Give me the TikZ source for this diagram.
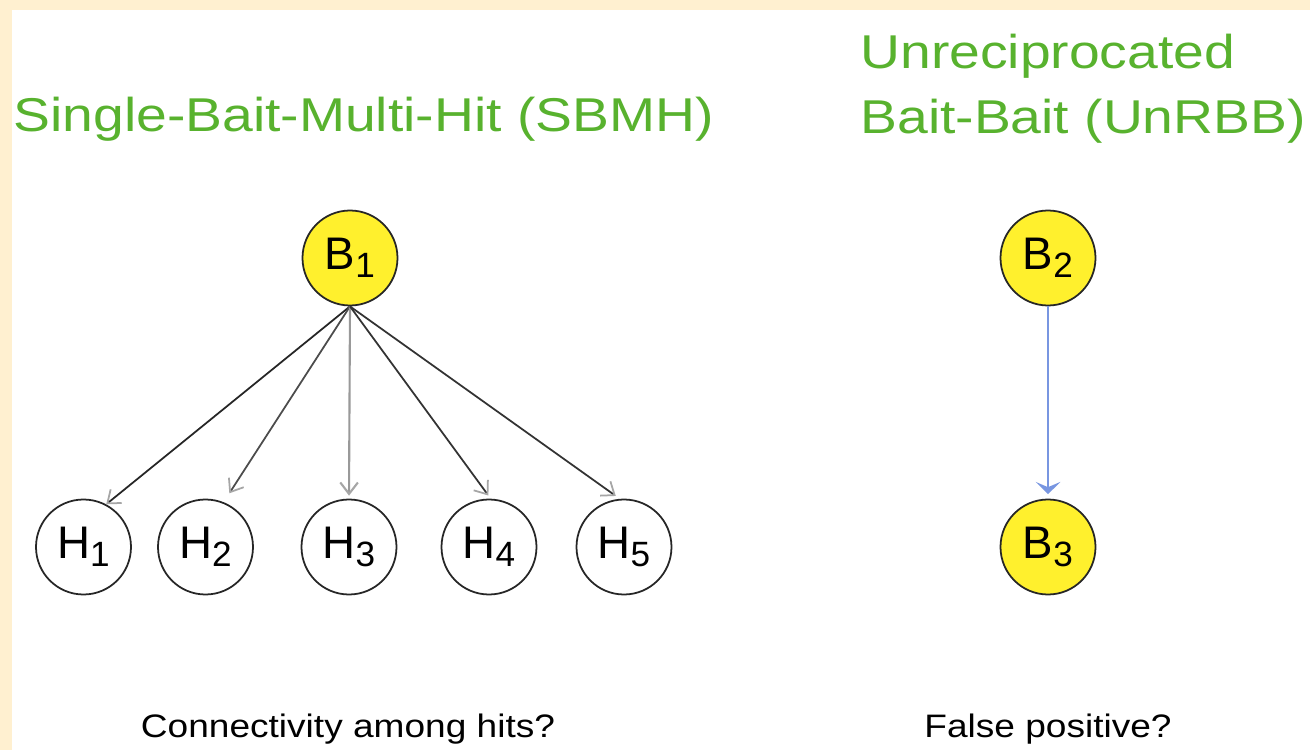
\documentclass[tikz,border=0pt]{standalone}
\usepackage{fontspec}
\setmainfont{Liberation Sans}
\usepackage{tikz}
\usetikzlibrary{arrows.meta}

\definecolor{cream}{RGB}{255,240,208}
\definecolor{baityellow}{RGB}{255,240,45}
\definecolor{titlegreen}{RGB}{88,178,46}
\definecolor{edgeblue}{RGB}{120,150,225}

% index on a node label, set a bit lower and smaller
\newcommand{\idx}[1]{\raisebox{-4.5pt}{\fontsize{20}{20}\selectfont #1}}

\begin{document}
\begin{tikzpicture}
        \tikzset{bait/.style = {shape=circle,draw=black!85,line width=1pt,fill=baityellow,
                                minimum size=1.9cm,inner sep=0pt,font=\fontsize{26}{26}\selectfont}}
        \tikzset{hit/.style = {bait,fill=white}}
        \tikzset{edge/.style = {line width=1pt,-{Straight Barb[length=6.5pt,width=10pt,color=black!35]}}}
        \tikzset{title/.style = {text=titlegreen,font=\fontsize{27}{27}\selectfont,
                                 inner sep=0pt,anchor=base west,xscale=1.165,transform shape}}
        \tikzset{question/.style = {font=\fontsize{18.5}{18.5}\selectfont,
                                    inner sep=0pt,anchor=base,xscale=1.14,transform shape}}

        % frame and page
        \fill[cream] (0,0) rectangle (26.2,15);
        \fill[white] (0.24,0) rectangle (26.2,14.8);
        \useasboundingbox (0,0) rectangle (26.2,15);

        \node[title] (t1) at (0.26, 12.36) {Single-Bait-Multi-Hit (SBMH)};
        \node[title] (t2) at (17.2, 13.62) {Unreciprocated};
        \node[title] (t3) at (17.2, 12.32) {Bait-Bait (UnRBB)};

        \node[bait] (B1) at (7.0, 9.84) {B\idx{1}};
        \node[hit] (H1) at (1.67, 4.06) {H\idx{1}};
        \node[hit] (H2) at (4.11, 4.06) {H\idx{2}};
        \node[hit] (H3) at (6.98, 4.06) {H\idx{3}};
        \node[hit] (H4) at (9.78, 4.06) {H\idx{4}};
        \node[hit] (H5) at (12.48, 4.06) {H\idx{5}};

        \node[bait] (B2) at (20.96, 9.84) {B\idx{2}};
        \node[bait] (B3) at (20.96, 4.06) {B\idx{3}};

        \draw[edge, black!85] (B1.south) to (H1.62);
        \draw[edge, black!70, shorten >=6pt] (B1.south) to (H2.68);
        \draw[edge, black!40, line width=1.2pt, shorten >=1.7pt] (B1.south) to (H3.north);
        \draw[edge, black!80, shorten >=2.2pt] (B1.south) to (H4.88);
        \draw[edge, black!80, shorten >=2.8pt] (B1.south) to (H5.95);

        \draw[line width=1pt, edgeblue, shorten >=2.5pt,
              -{Stealth[length=7pt,width=14pt,inset=3pt]}] (B2.south) to (B3.north);

        \node[question] (q1) at (6.96, 0.26) {Connectivity among hits?};
        \node[question] (q2) at (20.96, 0.26) {False positive?};
      \end{tikzpicture}
\end{document}
